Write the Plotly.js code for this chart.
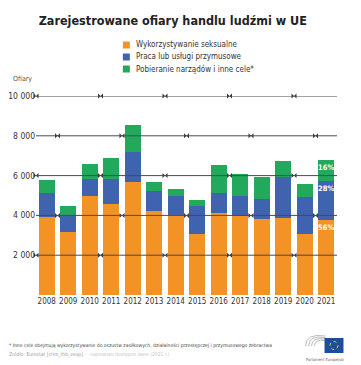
<!DOCTYPE html>
<html>
<head>
<meta charset="utf-8">
<script src="https://cdn.plot.ly/plotly-3.0.1.min.js"></script>
<style>html,body{margin:0;padding:0;background:#fff;}#chart{width:361px;height:365px;}</style>
</head>
<body>
<div id="chart"></div>
<script>
// ---- data ----
const years = [2008, 2009, 2010, 2011, 2012, 2013, 2014, 2015, 2016, 2017, 2018, 2019, 2020, 2021];
const sexual = [3900, 3170, 4950, 4580, 5700, 4200, 4030, 3080, 4120, 3970, 3830, 3880, 3050, 3790];
const labour = [1220, 800, 880, 1240, 1470, 1050, 920, 1370, 1010, 1030, 990, 2040, 1870, 1930];
const other = [680, 500, 750, 1060, 1360, 450, 380, 330, 1400, 1080, 1130, 800, 660, 1080];
const pctLabels2021 = ['56%', '28%', '16%'];
const seriesNames = ['Wykorzystywanie seksualne', 'Praca lub usługi przymusowe', 'Pobieranie narządów i inne cele*'];
const yTicks = [2000, 4000, 6000, 8000, 10000];

const colors = ['#F39325', '#3F63AE', '#22A95C'];
const FONT = 'DejaVu Sans Condensed, Liberation Sans Narrow, sans-serif';

// pixel helpers (plot area: x 36..337.5, y 96..295)
const L = 36, R = 337.5, T = 96, B = 295;
const px = x => (x - L) / (R - L);
const py = y => (B - y) / (B - T);

function lastOnly(label) { return years.map((y, i) => i === years.length - 1 ? label : ''); }

const traces = [sexual, labour, other].map((vals, k) => ({
  type: 'bar', x: years, y: vals, name: seriesNames[k],
  marker: {color: colors[k], line: {width: 0}},
  text: lastOnly(pctLabels2021[k]), textposition: 'inside', insidetextanchor: 'end',
  textangle: 0, constraintext: 'none',
  textfont: {family: FONT, size: 7.5, color: '#fff', weight: 'bold'},
  hoverinfo: 'skip', showlegend: false
}));

// barbed wire barbs
const barbX = [], barbY = [];
yTicks.forEach((v, i) => {
  const offs = (i % 2 === 0) ? [2007.5, 2010.5, 2013.5, 2016.5, 2019.5] : [2008.5, 2011.5, 2014.5, 2017.5, 2020.5];
  offs.forEach(o => { barbX.push(o); barbY.push(v); });
});
traces.push({
  type: 'scatter', mode: 'markers', x: barbX, y: barbY, cliponaxis: false,
  marker: {symbol: 'bowtie', size: 5, color: '#333'}, hoverinfo: 'skip', showlegend: false
});

const shapes = yTicks.map(v => ({
  type: 'line', xref: 'x', yref: 'y', x0: 2007.5, x1: 2021.5, y0: v, y1: v,
  line: {color: '#4a4a4a', width: 1}, layer: 'above'
}));

const annotations = [];
// manual legend
seriesNames.forEach((n, k) => {
  const yc = 45 + k * 12;
  shapes.push({type: 'rect', xref: 'paper', yref: 'paper', x0: px(123), x1: px(130), y0: py(yc + 3.5), y1: py(yc - 3.5),
    fillcolor: colors[k], line: {width: 0}});
  annotations.push({xref: 'paper', yref: 'paper', x: px(134), y: py(yc), xanchor: 'left', yanchor: 'middle',
    text: n, showarrow: false, font: {family: FONT, size: 8, color: '#333'}});
});
annotations.push({xref: 'paper', yref: 'paper', x: px(11), y: py(79), xanchor: 'left', yanchor: 'middle',
  text: 'Ofiary', showarrow: false, font: {family: FONT, size: 7, color: '#555'}});
// footer
annotations.push({xref: 'paper', yref: 'paper', x: px(7), y: py(345), xanchor: 'left', yanchor: 'middle',
  text: '* Inne cele obejmują wykorzystywanie do oszustw zasiłkowych, działalności przestępczej i przymusowego żebractwa',
  showarrow: false, font: {family: FONT, size: 5, color: '#444'}});
annotations.push({xref: 'paper', yref: 'paper', x: px(7), y: py(354), xanchor: 'left', yanchor: 'middle',
  text: 'Źródło: Eurostat [crim_thb_vexp]  <span style="color:#c4c4c4">·  najnowsze dostępne dane (2021 r.)</span>',
  showarrow: false, font: {family: FONT, size: 5, color: '#999'}});
annotations.push({xref: 'paper', yref: 'paper', x: px(325), y: py(359), xanchor: 'center', yanchor: 'middle',
  text: 'Parlament Europejski', showarrow: false, font: {family: FONT, size: 4, color: '#666'}});
// logo: hemicycle arcs + flag
[0, 1, 2, 3].forEach(i => {
  const rx = 20 - i * 3, ry = 10 - i * 1.5, cx = 326, cy = 346;
  shapes.push({type: 'path', xref: 'paper', yref: 'paper',
    path: `M ${px(cx - rx)} ${py(cy)} Q ${px(cx - rx)} ${py(cy - ry * 1.3)} ${px(cx)} ${py(cy - ry)}`,
    line: {color: '#aaa', width: 0.8}});
});
shapes.push({type: 'rect', xref: 'paper', yref: 'paper', x0: px(325), x1: px(344), y0: py(353), y1: py(338),
  fillcolor: '#1D4E9E', line: {width: 0}});
shapes.push({type: 'circle', xref: 'paper', yref: 'paper', x0: px(330.5), x1: px(338.5), y0: py(349.5), y1: py(341.5),
  line: {color: '#F5D000', width: 1, dash: 'dot'}});

const layout = {
  width: 361, height: 365,
  margin: {l: L, r: 361 - R, t: T, b: 365 - B, pad: 0},
  paper_bgcolor: '#fff', plot_bgcolor: '#fff',
  separators: ', ',
  barmode: 'stack', bargap: 0.26,
  showlegend: false,
  title: {text: '<b>Zarejestrowane ofiary handlu ludźmi w UE</b>', xref: 'paper', x: px(173), xanchor: 'center',
    yref: 'container', y: 1 - 21 / 365, yanchor: 'middle',
    font: {family: FONT, size: 12.5, color: '#222'}},
  xaxis: {range: [2007.5, 2021.5], tickvals: years, ticktext: years.map(String), showgrid: false, zeroline: false,
    showline: false, ticks: '', tickangle: 0, tickfont: {family: FONT, size: 8, color: '#333'}, fixedrange: true},
  yaxis: {range: [0, 10000], tickvals: yTicks, tickformat: ',d', showgrid: false, zeroline: false, showline: false,
    ticks: '', tickfont: {family: FONT, size: 8.5, color: '#333'}, fixedrange: true},
  shapes: shapes, annotations: annotations
};

Plotly.newPlot('chart', traces, layout, {displayModeBar: false, staticPlot: true});
</script>
</body>
</html>
